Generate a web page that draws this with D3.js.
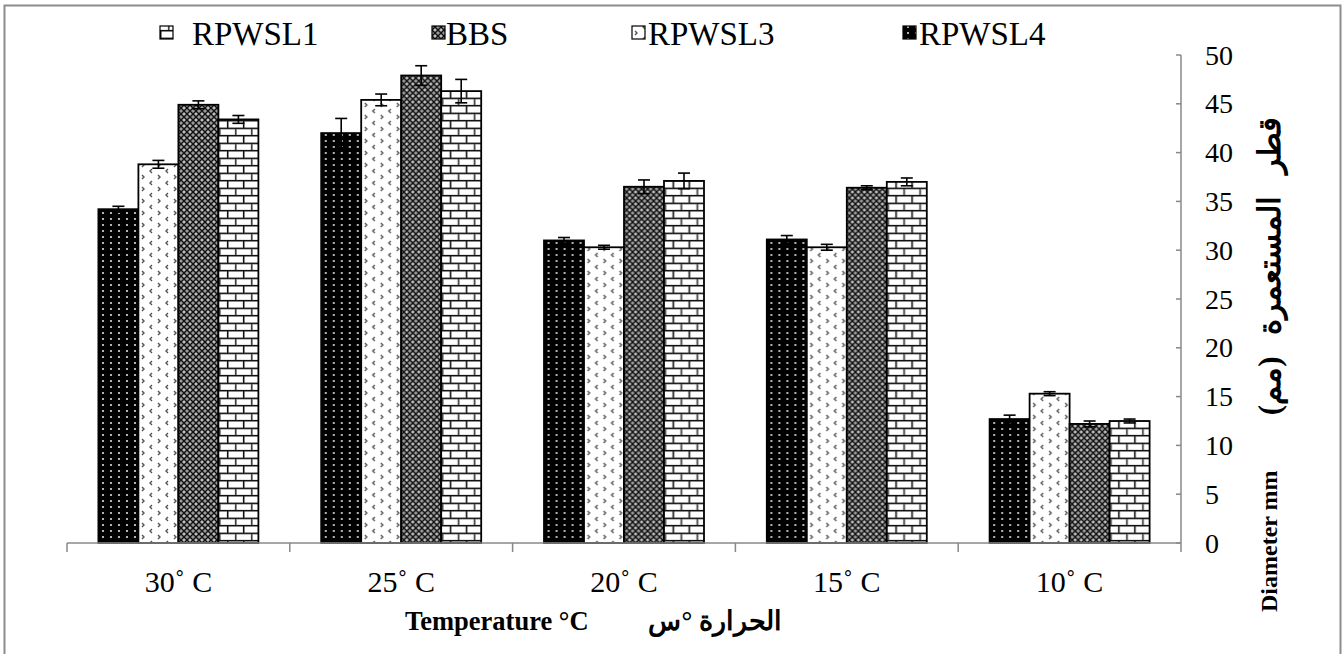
<!DOCTYPE html>
<html>
<head>
<meta charset="utf-8">
<script src="https://cdn.jsdelivr.net/npm/d3@7"></script>
<style>
  body { margin: 0; background: #fff; }
  svg { display: block; }
  text { white-space: pre; }
</style>
</head>
<body>
<svg id="chart" width="1343" height="654" font-family="'Liberation Serif', 'Times New Roman', 'DejaVu Serif', serif"></svg>
<script>
// chart data
const temps = ["30˚ C", "25˚ C", "20˚ C", "15˚ C", "10˚ C"];
const series = ["RPWSL4", "RPWSL3", "BBS", "RPWSL1"];
const legendOrder = ["RPWSL1", "BBS", "RPWSL3", "RPWSL4"];
const rpwsl4 = [34.2, 42.0, 31.0, 31.1, 12.7];
const rpwsl3 = [38.8, 45.4, 30.3, 30.3, 15.3];
const bbs    = [44.9, 47.9, 36.5, 36.4, 12.2];
const rpwsl1 = [43.4, 46.3, 37.1, 37.0, 12.5];
const err4 = [0.3, 1.5, 0.3, 0.4, 0.4];
const err3 = [0.4, 0.6, 0.2, 0.3, 0.2];
const errB = [0.4, 1.0, 0.7, 0.2, 0.3];
const err1 = [0.4, 1.2, 0.8, 0.4, 0.2];
const yTicks = [0, 5, 10, 15, 20, 25, 30, 35, 40, 45, 50];

const values = { RPWSL4: rpwsl4, RPWSL3: rpwsl3, BBS: bbs, RPWSL1: rpwsl1 };
const errors = { RPWSL4: err4, RPWSL3: err3, BBS: errB, RPWSL1: err1 };

const svg = d3.select("#chart");
const plotLeft = 67, plotRight = 1181, plotTop = 55, plotBottom = 543;

// frame
svg.append("rect")
  .attr("x", 4.5).attr("y", 5.5)
  .attr("width", 1336).attr("height", 660)
  .attr("fill", "none").attr("stroke", "#8c8c8c").attr("stroke-width", 2);

// patterns
const defs = svg.append("defs");

let p = defs.append("pattern").attr("id", "pat-RPWSL4")
  .attr("patternUnits", "userSpaceOnUse").attr("width", 8).attr("height", 6);
p.append("rect").attr("width", 8).attr("height", 6).attr("fill", "#000");
p.append("circle").attr("cx", 4).attr("cy", 3).attr("r", 1.1).attr("fill", "#ddd");

p = defs.append("pattern").attr("id", "pat-RPWSL3")
  .attr("patternUnits", "userSpaceOnUse").attr("width", 16).attr("height", 12);
p.append("rect").attr("width", 16).attr("height", 12).attr("fill", "#fff");
p.append("path").attr("d", "M5,1 L3,3 L5,5").attr("fill", "none").attr("stroke", "#555").attr("stroke-width", 1.4);
p.append("path").attr("d", "M11,7 L13,9 L11,11").attr("fill", "none").attr("stroke", "#555").attr("stroke-width", 1.4);

p = defs.append("pattern").attr("id", "pat-BBS")
  .attr("patternUnits", "userSpaceOnUse").attr("width", 6).attr("height", 6);
p.append("rect").attr("width", 6).attr("height", 6).attr("fill", "#999");
p.append("path").attr("d", "M0,0 L6,6 M6,0 L0,6").attr("stroke", "#111").attr("stroke-width", 1.3);
p.append("circle").attr("cx", 3).attr("cy", 0).attr("r", 0.8).attr("fill", "#eee");
p.append("circle").attr("cx", 3).attr("cy", 6).attr("r", 0.8).attr("fill", "#eee");

p = defs.append("pattern").attr("id", "pat-RPWSL1")
  .attr("patternUnits", "userSpaceOnUse").attr("width", 16).attr("height", 15);
p.append("rect").attr("width", 16).attr("height", 15).attr("fill", "#111");
p.append("rect").attr("x", 1.7).attr("y", 1.7).attr("width", 14.3).attr("height", 5.8)
  .attr("fill", "#fff").attr("stroke", "#aaa").attr("stroke-width", 0.6);
p.append("rect").attr("x", -6.3).attr("y", 9.2).attr("width", 14.3).attr("height", 5.8)
  .attr("fill", "#fff").attr("stroke", "#aaa").attr("stroke-width", 0.6);
p.append("rect").attr("x", 9.7).attr("y", 9.2).attr("width", 14.3).attr("height", 5.8)
  .attr("fill", "#fff").attr("stroke", "#aaa").attr("stroke-width", 0.6);

// scales
const x0 = d3.scaleBand().domain(temps).range([plotLeft, plotRight]);
const x1 = d3.scaleBand().domain(series).range([0, x0.bandwidth()])
  .paddingInner(0).paddingOuter(0.785);
const y = d3.scaleLinear().domain([0, 50]).range([plotBottom, plotTop]);

// bars
const groups = svg.append("g").selectAll("g")
  .data(temps)
  .join("g")
  .attr("transform", d => `translate(${x0(d)},0)`);

groups.selectAll("rect")
  .data((d, i) => series.map(s => ({ s, v: values[s][i], e: errors[s][i] })))
  .join("rect")
  .attr("x", d => x1(d.s))
  .attr("y", d => y(d.v))
  .attr("width", x1.bandwidth())
  .attr("height", d => y(0) - y(d.v))
  .attr("fill", d => `url(#pat-${d.s})`)
  .attr("stroke", "#000")
  .attr("stroke-width", 1.8);

// error bars
const eb = groups.selectAll("g.err")
  .data((d, i) => series.map(s => ({ s, v: values[s][i], e: errors[s][i] })))
  .join("g").attr("class", "err")
  .attr("stroke", "#000").attr("stroke-width", 1.6);
eb.append("line")
  .attr("x1", d => x1(d.s) + x1.bandwidth() / 2)
  .attr("x2", d => x1(d.s) + x1.bandwidth() / 2)
  .attr("y1", d => y(d.v - d.e)).attr("y2", d => y(d.v + d.e));
eb.append("line")
  .attr("x1", d => x1(d.s) + x1.bandwidth() / 2 - 6)
  .attr("x2", d => x1(d.s) + x1.bandwidth() / 2 + 6)
  .attr("y1", d => y(d.v + d.e)).attr("y2", d => y(d.v + d.e));
eb.append("line")
  .attr("x1", d => x1(d.s) + x1.bandwidth() / 2 - 6)
  .attr("x2", d => x1(d.s) + x1.bandwidth() / 2 + 6)
  .attr("y1", d => y(d.v - d.e)).attr("y2", d => y(d.v - d.e));

// x axis
const xAxis = svg.append("g").attr("transform", `translate(0,${plotBottom})`);
xAxis.append("line").attr("x1", plotLeft).attr("x2", plotRight)
  .attr("stroke", "#888").attr("stroke-width", 1.5);
xAxis.selectAll("line.tick")
  .data(temps.concat(["end"]))
  .join("line").attr("class", "tick")
  .attr("x1", (d, i) => i < temps.length ? x0(d) : plotRight)
  .attr("x2", (d, i) => i < temps.length ? x0(d) : plotRight)
  .attr("y1", 0).attr("y2", 9)
  .attr("stroke", "#888").attr("stroke-width", 1.5);
xAxis.selectAll("text")
  .data(temps)
  .join("text")
  .attr("x", d => x0(d) + x0.bandwidth() / 2)
  .attr("y", 49)
  .attr("text-anchor", "middle")
  .attr("font-size", 30)
  .text(d => d);

// y axis (right side)
const yAxis = svg.append("g").attr("transform", `translate(${plotRight},0)`);
yAxis.append("line").attr("y1", plotTop).attr("y2", plotBottom)
  .attr("stroke", "#888").attr("stroke-width", 1.5);
yAxis.selectAll("line.tick")
  .data(yTicks)
  .join("line").attr("class", "tick")
  .attr("x1", -5).attr("x2", 0)
  .attr("y1", d => y(d)).attr("y2", d => y(d))
  .attr("stroke", "#888").attr("stroke-width", 1.5);
yAxis.selectAll("text")
  .data(yTicks)
  .join("text")
  .attr("x", 24)
  .attr("y", d => y(d))
  .attr("dy", "0.34em")
  .attr("font-size", 28)
  .text(d => d);

// axis titles
svg.append("text")
  .attr("transform", "translate(1277,612) rotate(-90)")
  .attr("font-size", 24)
  .attr("font-weight", "bold")
  .text("Diameter mm");
svg.append("text")
  .attr("transform", "translate(1280,117) rotate(-90)")
  .attr("text-anchor", "end")
  .attr("font-size", 31)
  .attr("word-spacing", 14)
  .attr("font-weight", "bold")
  .text("\u202Bقطر المستعمرة (مم)\u202C");

svg.append("text")
  .attr("x", 405).attr("y", 630)
  .attr("font-size", 26.5)
  .attr("font-weight", "bold")
  .text("Temperature °C");
svg.append("text")
  .attr("x", 782).attr("y", 630)
  .attr("text-anchor", "end")
  .attr("font-size", 27)
  .attr("font-weight", "bold")
  .text("\u202Bالحرارة °س\u202C");

// legend
const swatchX = [160, 432, 632, 903], labelX = [192, 446, 648, 919];
const legend = svg.append("g").selectAll("g")
  .data(legendOrder)
  .join("g");
legend.append("rect")
  .attr("x", (d, i) => swatchX[i]).attr("y", 26)
  .attr("width", 13).attr("height", 13)
  .attr("fill", d => `url(#pat-${d})`)
  .attr("stroke", "#000").attr("stroke-width", 1.2);
legend.append("text")
  .attr("x", (d, i) => labelX[i]).attr("y", 45)
  .attr("font-size", 33)
  .text(d => d);
</script>
</body>
</html>
